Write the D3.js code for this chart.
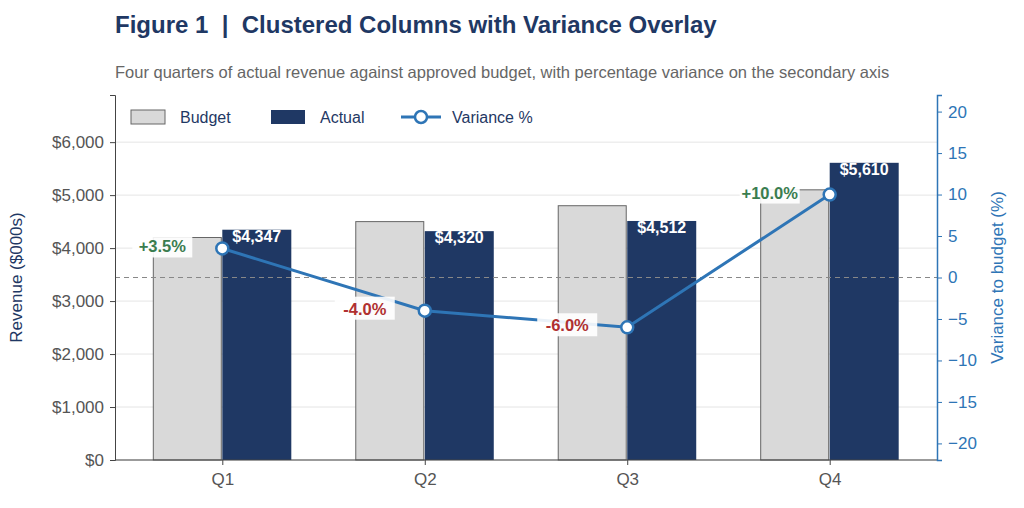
<!DOCTYPE html>
<html>
<head>
<meta charset="utf-8">
<script src="https://cdn.jsdelivr.net/npm/d3@7"></script>
<style>
body { margin: 0; background: #fff; font-family: "Liberation Sans", Arial, sans-serif; }
</style>
</head>
<body>
<div id="chart"></div>
<script>
const quarters = ["Q1", "Q2", "Q3", "Q4"];
const budget = [4200, 4500, 4800, 5100];
const actual = [4347, 4320, 4512, 5610];
const variance = [3.5, -4.0, -6.0, 10.0];
const leftTicks = [0, 1000, 2000, 3000, 4000, 5000, 6000];
const rightTicks = [-20, -15, -10, -5, 0, 5, 10, 15, 20];

const W = 1024, H = 508;
const m = {top: 95, right: 87, bottom: 48, left: 115};
const w = W - m.left - m.right, h = H - m.top - m.bottom;
const navy = "#1f3864", blue = "#2e75b6";

const svg = d3.select("#chart").append("svg").attr("width", W).attr("height", H);

svg.append("text").attr("x", 115).attr("y", 33).style("white-space", "pre")
    .attr("font-size", 24).attr("font-weight", "bold").attr("fill", navy)
    .text("Figure 1  |  Clustered Columns with Variance Overlay");
svg.append("text").attr("x", 115).attr("y", 78)
    .attr("font-size", 16.5).attr("fill", "#666")
    .text("Four quarters of actual revenue against approved budget, with percentage variance on the secondary axis");

const g = svg.append("g").attr("transform", `translate(${m.left},${m.top})`);

const x = d3.scalePoint().domain(quarters).range([0, w]).padding(0.53);
const y = d3.scaleLinear().domain([0, 6890]).range([h, 0]);
const y2 = d3.scaleLinear().domain([-22, 22]).range([h, 0]);
const bw = 69;

// grid
g.selectAll(".grid").data(leftTicks).enter().append("line")
    .attr("x1", 0).attr("x2", w).attr("y1", d => y(d)).attr("y2", d => y(d))
    .attr("stroke", "#e5e5e5");

// bars
g.selectAll(".b").data(quarters).enter().append("rect")
    .attr("x", d => x(d) - bw).attr("width", bw - 1)
    .attr("y", (d, i) => y(budget[i])).attr("height", (d, i) => h - y(budget[i]))
    .attr("fill", "#d9d9d9").attr("stroke", "#666").attr("stroke-width", 1);
g.selectAll(".a").data(quarters).enter().append("rect")
    .attr("x", d => x(d)).attr("width", bw)
    .attr("y", (d, i) => y(actual[i])).attr("height", (d, i) => h - y(actual[i]))
    .attr("fill", navy);
g.selectAll(".al").data(quarters).enter().append("text")
    .attr("x", d => x(d) + bw / 2).attr("y", (d, i) => y(actual[i]) + 12)
    .attr("text-anchor", "middle").attr("font-size", 16).attr("font-weight", "bold")
    .attr("fill", "#fff").text((d, i) => "$" + d3.format(",")(actual[i]));

// zero line
g.append("line").attr("x1", 0).attr("x2", w).attr("y1", y2(0)).attr("y2", y2(0))
    .attr("stroke", "#888").attr("stroke-dasharray", "5,4").attr("stroke-width", 1.2);

// variance line
const line = d3.line().x((d, i) => x(quarters[i])).y(d => y2(d));
g.append("path").datum(variance).attr("d", line)
    .attr("fill", "none").attr("stroke", blue).attr("stroke-width", 3);
g.selectAll(".pt").data(variance).enter().append("circle")
    .attr("cx", (d, i) => x(quarters[i])).attr("cy", d => y2(d)).attr("r", 6)
    .attr("fill", "#fff").attr("stroke", blue).attr("stroke-width", 2.5);

const vl = g.selectAll(".vl").data(variance).enter().append("g")
    .attr("transform", (d, i) => `translate(${x(quarters[i]) - 60},${y2(d) - 2})`);
vl.append("rect").attr("x", -30).attr("y", -12).attr("width", 60).attr("height", 23)
    .attr("fill", "#fff").attr("opacity", 0.9);
vl.append("text").attr("text-anchor", "middle").attr("y", 6)
    .attr("font-size", 16.5).attr("font-weight", "bold")
    .attr("fill", d => d >= 0 ? "#3a7d4f" : "#b03030")
    .text(d => (d > 0 ? "+" : "") + d.toFixed(1) + "%");

// axes
const ax = g.append("g").attr("transform", `translate(0,${h})`)
    .call(d3.axisBottom(x).tickSize(5).tickPadding(8));
ax.select(".domain").attr("stroke", "#444").attr("d", `M0,0H${w}`);
const ayl = g.append("g").call(d3.axisLeft(y).tickValues(leftTicks)
    .tickFormat(d => "$" + d3.format(",")(d)).tickSize(5).tickPadding(6));
ayl.select(".domain").attr("stroke", "#444");
const ayr = g.append("g").attr("transform", `translate(${w},0)`)
    .call(d3.axisRight(y2).tickValues(rightTicks).tickFormat(d => d < 0 ? "\u2212" + (-d) : d).tickSize(5).tickPadding(6));
ayr.select(".domain").attr("stroke", blue).attr("stroke-width", 1.5);
ayr.selectAll(".tick line").attr("stroke", blue);
ayr.selectAll("text").attr("fill", blue);
g.selectAll(".tick text").attr("font-size", 17).attr("font-family", "Liberation Sans, Arial, sans-serif");
ax.selectAll(".tick text").attr("fill", "#555");
ayl.selectAll(".tick text").attr("fill", "#555");
ax.selectAll(".tick line").attr("stroke", "#444");
ayl.selectAll(".tick line").attr("stroke", "#444");

g.append("text").attr("transform", `translate(-93,${h / 2}) rotate(-90)`)
    .attr("text-anchor", "middle").attr("font-size", 17).attr("fill", navy).text("Revenue ($000s)");
g.append("text").attr("transform", `translate(${w + 66},${h / 2}) rotate(-90)`)
    .attr("text-anchor", "middle").attr("font-size", 17).attr("fill", blue).text("Variance to budget (%)");

// legend
const lg = g.append("g").attr("transform", "translate(16,22)");
lg.append("rect").attr("x", 0).attr("y", -7).attr("width", 34).attr("height", 14)
    .attr("fill", "#d9d9d9").attr("stroke", "#666");
lg.append("text").attr("x", 49).attr("y", 6).attr("font-size", 16).attr("fill", navy).text("Budget");
lg.append("rect").attr("x", 140).attr("y", -7).attr("width", 34).attr("height", 14).attr("fill", navy);
lg.append("text").attr("x", 189).attr("y", 6).attr("font-size", 16).attr("fill", navy).text("Actual");
lg.append("line").attr("x1", 270).attr("x2", 310).attr("y1", 0).attr("y2", 0)
    .attr("stroke", blue).attr("stroke-width", 3);
lg.append("circle").attr("cx", 290).attr("cy", 0).attr("r", 6)
    .attr("fill", "#fff").attr("stroke", blue).attr("stroke-width", 2.5);
lg.append("text").attr("x", 321).attr("y", 6).attr("font-size", 16).attr("fill", navy).text("Variance %");
</script>
</body>
</html>
